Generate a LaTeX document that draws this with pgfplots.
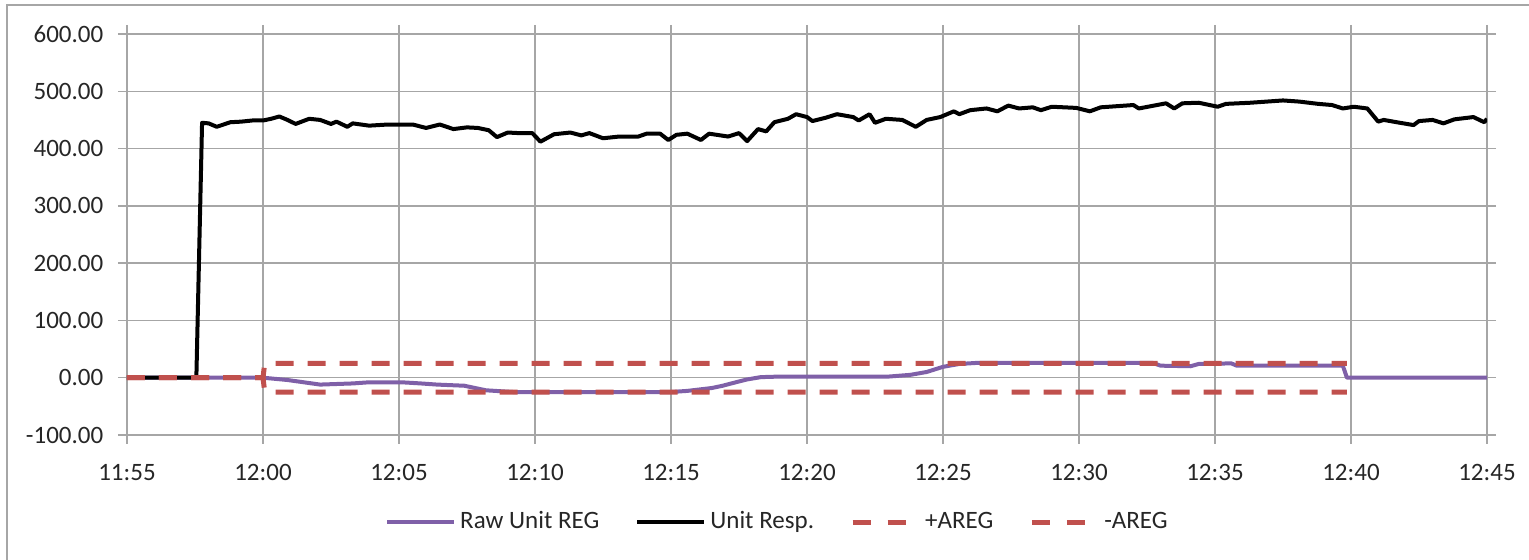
\documentclass[border=0pt]{standalone}
\usepackage{pgfplots}
\pgfplotsset{compat=1.18}
\usepackage{fontspec}
\setmainfont{Carlito}
\definecolor{regpurple}{HTML}{7F60A8}
\definecolor{aregred}{HTML}{C0504D}
\definecolor{gridgray}{HTML}{A6A6A6}
\definecolor{txt}{HTML}{262626}
\pgfplotsset{
  solidleg/.style={legend image code/.code={\draw[##1] (0pt,0pt) -- (33.5pt,0pt);}},
  dashleg/.style={legend image code/.code={\draw[##1, dash pattern=on 9pt off 8.5pt] (0pt,0pt) -- (26.5pt,0pt); \path (33pt,0pt);}},
}
\begin{document}
\fontsize{12.5}{15}\selectfont
\begin{tikzpicture}
\useasboundingbox (-63.5pt,-62.5pt) rectangle (701pt,217.5pt);
\draw[gridgray, line width=1pt] (-60pt,-70pt) -- (-60pt,215pt) -- (710pt,215pt);
\begin{axis}[
  scale only axis, width=680pt, height=200.5pt,
  at={(0,0)}, anchor=south west,
  xmin=0, xmax=50, ymin=-100, ymax=600,
  xtick={0,5,...,50},
  xticklabels={11:55,12:00,12:05,12:10,12:15,12:20,12:25,12:30,12:35,12:40,12:45},
  ytick={-100,0,...,600},
  /pgf/number format/assume math mode=true,
  y tick label style={/pgf/number format/fixed, /pgf/number format/fixed zerofill, /pgf/number format/precision=2},
  grid=major,
  major grid style={gridgray, line width=0.75pt},
  axis line style={gridgray, line width=0.75pt},
  tick align=outside, major tick length=4.5pt,
  tick style={gridgray, line width=0.75pt},
  tick label style={font=\fontsize{12.5}{15}\selectfont, text=txt},
  xticklabel style={yshift=-6pt},
  yticklabel style={xshift=-3pt},
  legend columns=4,
  legend style={at={(0.479,-0.217)}, anchor=center, draw=none, fill=none,
    font=\fontsize{12.5}{15}\selectfont, text=txt,
    /tikz/every even column/.append style={column sep=16pt}},
  legend cell align=left,
]
\addplot[regpurple, line width=2pt, line join=round, solidleg] coordinates {
(0,0) (5.0,0) (5.9,-4) (6.5,-8) (7.1,-12) (7.7,-11) (8.3,-10) (8.9,-8) (10.1,-8)
(10.8,-10) (11.4,-12) (12.4,-14) (12.8,-18) (13.2,-22) (14.2,-25) (20.0,-25)
(20.6,-23) (21.5,-18) (21.9,-14) (22.3,-9) (22.8,-3) (23.3,1) (24.0,2) (28.0,2)
(28.8,5) (29.4,10) (30.0,19) (30.6,24) (31.3,26) (37.7,26) (38.0,21) (39.1,20)
(39.4,24) (40.6,25) (40.8,21) (44.7,21) (44.85,0) (50,0)
};
\addlegendentry{Raw Unit REG}
\addplot[black, line width=2pt, line join=round, solidleg] coordinates {
(0,0) (2.55,0) (2.76,445) (3.0,444) (3.3,438) (3.8,446) (4.2,447) (4.6,449)
(5.0,449) (5.3,452) (5.6,456) (5.9,450) (6.2,443) (6.7,452) (7.1,450) (7.5,443)
(7.7,447) (8.1,438) (8.3,444) (8.9,440) (9.6,442) (10.5,442) (11.0,436) (11.5,442)
(12.0,434) (12.5,437) (12.9,436) (13.3,432) (13.6,420) (14.0,428) (14.4,427)
(14.9,427) (15.2,412) (15.7,425) (16.3,428) (16.7,423) (17.0,427) (17.5,418)
(18.1,421) (18.8,421) (19.1,426) (19.6,426) (19.9,415) (20.2,424) (20.6,426)
(21.1,415) (21.4,426) (22.1,421) (22.5,427) (22.8,413) (23.2,434) (23.5,430)
(23.8,446) (24.3,452) (24.6,460) (25.0,455) (25.2,448) (25.7,454) (26.1,460)
(26.7,455) (26.9,449) (27.3,460) (27.5,445) (27.9,452) (28.5,450) (29.0,438)
(29.4,450) (29.9,455) (30.4,465) (30.6,460) (31.0,467) (31.6,470) (32.0,465)
(32.4,475) (32.8,470) (33.3,472) (33.6,467) (34.0,473) (34.9,471) (35.4,465)
(35.8,472) (37.0,476) (37.2,470) (38.2,479) (38.5,470) (38.8,479) (39.4,480)
(40.1,473) (40.4,478) (41.3,480) (42.5,484) (43.1,482) (43.8,478) (44.3,476)
(44.7,470) (45.1,473) (45.6,470) (46.0,447) (46.2,450) (46.8,445) (47.3,441)
(47.5,448) (48.0,450) (48.4,444) (48.8,451) (49.5,455) (49.9,446) (50.0,452)
};
\addlegendentry{Unit Resp.}
\addplot[aregred, line width=2.5pt, dash pattern=on 9pt off 7pt, dashleg] coordinates {
(0,0) (5.0,0) (5.05,20) (5.15,25) (44.85,25)
};
\addlegendentry{+AREG}
\addplot[aregred, line width=2.5pt, dash pattern=on 9pt off 7pt, dashleg] coordinates {
(0,0) (5.0,0) (5.05,-20) (5.15,-25) (44.85,-25)
};
\addlegendentry{-AREG}
\end{axis}
\end{tikzpicture}
\end{document}
